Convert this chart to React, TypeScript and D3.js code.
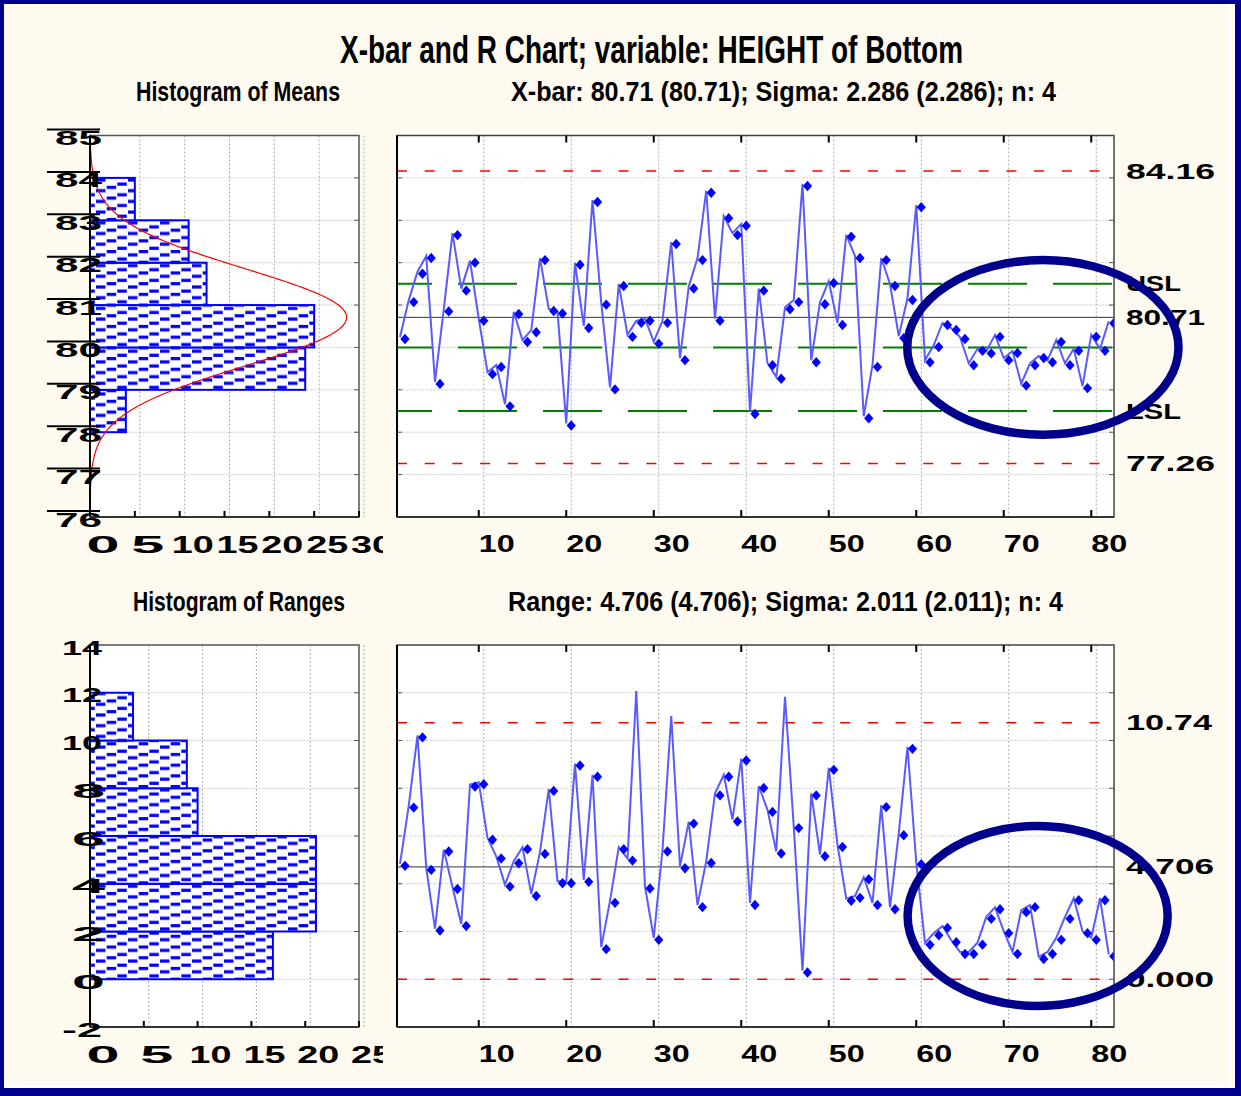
import React from "react";
import * as d3 from "d3";

const W = 1241;
const H = 1096;

// sample means (n = 4)
const sampleMeans = [
  80.2, 81.07, 81.74, 82.11, 79.14, 80.85, 82.65, 81.34, 82.0, 80.63,
  79.37, 79.54, 78.61, 80.79, 80.13, 80.36, 82.06, 80.86, 80.8, 78.16,
  81.95, 80.46, 83.43, 81.01, 79.01, 81.45, 80.25, 80.58, 80.63, 80.09,
  80.58, 82.44, 79.7, 81.39, 82.06, 83.65, 80.63, 83.05, 82.65, 82.87,
  78.43, 81.34, 79.58, 79.26, 80.9, 81.07, 83.81, 79.65, 81.02, 81.52,
  80.53, 82.61, 82.11, 78.33, 79.54, 82.06, 81.45, 80.22, 81.12, 83.31,
  79.65, 80.01, 80.53, 80.41, 80.2, 79.58, 79.92, 79.86, 80.25, 79.7,
  79.87, 79.1, 79.58, 79.75, 79.65, 80.13, 79.58, 79.92, 79.04, 80.25,
  79.92, 80.57,
];

// sample ranges
const sampleRanges = [
  4.75, 7.19, 10.13, 4.58, 2.04, 5.35, 3.78, 2.23, 8.07, 8.17,
  5.84, 5.06, 3.88, 4.86, 5.45, 3.49, 5.25, 7.89, 4.02, 4.02,
  8.95, 4.08, 8.48, 1.26, 3.2, 5.45, 4.97, 11.99, 3.8, 1.65,
  5.35, 10.94, 4.65, 6.52, 3.02, 4.87, 7.7, 8.48, 6.61, 9.16,
  3.11, 8.01, 7.01, 5.27, 11.75, 6.33, 0.28, 7.7, 5.15, 8.77,
  5.54, 3.29, 3.41, 4.19, 3.11, 7.21, 2.93, 6.03, 9.65, 4.82,
  1.44, 1.84, 2.15, 1.55, 1.06, 1.06, 1.45, 2.53, 2.93, 1.93,
  1.06, 2.81, 3.02, 0.85, 1.06, 1.65, 2.53, 3.31, 1.93, 1.65,
  3.31, 0.96,
];
// samples whose marker is not drawn on the R chart
const rangeHiddenMarkers = [28, 32, 45];

const meanBinStarts = [78, 79, 80, 81, 82, 83];
const meanBinCounts = [4, 24, 25, 13, 11, 5];
const rangeBinStarts = [0, 2, 4, 6, 8, 10];
const rangeBinCounts = [17, 21, 21, 10, 9, 4];

const meanTicks = [76, 77, 78, 79, 80, 81, 82, 83, 84, 85];
const rangeTicks = [-2, 0, 2, 4, 6, 8, 10, 12, 14];
const sampleTicks = [10, 20, 30, 40, 50, 60, 70, 80];
const meanCountTicks = [0, 5, 10, 15, 20, 25, 30];
const rangeCountTicks = [0, 5, 10, 15, 20, 25];

const xbarCenter = 80.71;
const xbarUcl = 84.16;
const xbarLcl = 77.26;
const xbarSigma = 2.286;
const sampleSize = 4;
const specValues = [78.5, 80, 81.5];
const specLabels = ["LSL", "", "USL"];

const rCenter = 4.706;
const rUcl = 10.74;
const rLcl = 0;
const rSigma = 2.011;

const titleText = "X-bar and R Chart; variable: HEIGHT of Bottom";

// ellipse annotations in data units [centre sample, centre value, half-width samples, half-height value]
const meanEllipse = [73.9, 80.0, 15.5, 2.06];
const rangeEllipse = [73.3, 2.65, 14.86, 3.77];

const FONT = "'Liberation Sans', Arial, sans-serif";
const CREAM = "#fffaef";
const NAVY = "#00008c";

const histL = 90;
const histR = 359;
const chartL = 397;
const chartR = 1114;
const topT = 135.5;
const topB = 517;
const botT = 645;
const botB = 1027;

const xS = d3.scaleLinear().domain([0, 82]).range([396.25, 1113.75]);
const yMean = d3.scaleLinear().domain([76, 85]).range([topB, topT]);
const yRange = d3.scaleLinear().domain([-2, 14]).range([botB, botT]);
const cMean = d3.scaleLinear().domain([0, 30]).range([histL, histR]);
const cRange = d3.scaleLinear().domain([0, 25]).range([histL, histR]);

function Txt({ x, y, w, size, weight = 700, children }: any) {
  return (
    <text
      x={x}
      y={y}
      textLength={w}
      lengthAdjust="spacingAndGlyphs"
      fontSize={size}
      fontWeight={weight}
      fontFamily={FONT}
      dominantBaseline="central"
      fill="#000"
    >
      {children}
    </text>
  );
}

function Histogram({ y, c, starts, width, counts, yTicks, cTicks, top, bottom, curve, overline, clipId }: any) {
  return (
    <g>
      <rect x={histL} y={top} width={histR - histL} height={bottom - top} fill="#fff" />
      {yTicks.slice(1, -1).map((v) => (
        <line key={"hg" + v} x1={histL} x2={histR} y1={y(v)} y2={y(v)} stroke="#d6d6d6" strokeDasharray="3 1" />
      ))}
      {cTicks.slice(1).map((t) => (
        <line key={"vg" + t} x1={c(t) + 5} x2={c(t) + 5} y1={top} y2={bottom} stroke="#aaa" strokeDasharray="2 2" />
      ))}
      {counts.map((n, i) => (
        <rect
          key={"b" + i}
          x={histL}
          y={y(starts[i] + width)}
          width={c(n) - histL}
          height={y(starts[i]) - y(starts[i] + width)}
          fill="url(#hatch)"
          stroke="#0000ff"
          strokeWidth={2}
        />
      ))}
      {curve && <path d={curve} fill="none" stroke="#ff0000" strokeWidth={1.2} clipPath={`url(#${clipId})`} />}
      <rect x={histL} y={top} width={histR - histL} height={bottom - top} fill="none" stroke="#555" strokeWidth={1.5} />
      <line x1={histL} x2={histL} y1={top} y2={bottom} stroke="#000" strokeWidth={2} />
      <line x1={histL} x2={histR} y1={bottom} y2={bottom} stroke="#333" strokeWidth={2} />
      {cTicks.slice(1).map((t) => (
        <line key={"t" + t} x1={c(t)} x2={c(t)} y1={bottom - 6} y2={bottom} stroke="#000" strokeWidth={2} />
      ))}
      {yTicks.slice(1, -1).map((v) => (
        <line key={"rt" + v} x1={histR - 5} x2={histR} y1={y(v)} y2={y(v)} stroke="#555" />
      ))}
      {overline &&
        yTicks.map((v) => (
          <line key={"ol" + v} x1={47} x2={100} y1={y(v) - 6} y2={y(v) - 6} stroke="#000" strokeWidth={2} />
        ))}
      {yTicks.map((v) => {
        const s = String(v);
        const w = s.length === 1 ? 33 : s.length === 2 ? (overline ? 47 : 40) : 45;
        return (
          <Txt key={"yl" + v} x={(s.length === 1 ? 105 : 102) - w} y={y(v) + 2} w={w} size={21}>
            {s}
          </Txt>
        );
      })}
      <g clipPath="url(#histLabelClip)">
        {cTicks.map((t) => {
          const s = String(t);
          const w = s.length === 1 ? 33 : 42;
          return (
            <Txt key={"xl" + t} x={c(t) + 13 - w / 2} y={bottom + 28} w={w} size={23}>
              {s}
            </Txt>
          );
        })}
      </g>
    </g>
  );
}

function ControlChart({ y, values, hidden, center, ucl, lcl, specs, gridVals, top, bottom, clipId, ellipse, rightLabels }: any) {
  const line = d3
    .line<number>()
    .x((_, i) => xS(i + 1))
    .y((v) => y(v));
  const [ex, ey, erx, ery] = ellipse;
  return (
    <g>
      <rect x={chartL} y={top} width={chartR - chartL} height={bottom - top} fill="#fff" />
      {gridVals.map((v) => (
        <line key={"hg" + v} x1={chartL} x2={chartR} y1={y(v)} y2={y(v)} stroke="#d6d6d6" strokeDasharray="3 1" />
      ))}
      {sampleTicks.map((t) => (
        <line key={"vg" + t} x1={xS(t)} x2={xS(t)} y1={top} y2={bottom} stroke="#aaa" strokeDasharray="2 2" />
      ))}
      <g clipPath={`url(#${clipId})`}>
        {specs &&
          specs.map((v) => (
            <line
              key={"sp" + v}
              x1={chartL}
              x2={chartR}
              y1={y(v)}
              y2={y(v)}
              stroke="#008000"
              strokeWidth={2}
              strokeDasharray="59 26"
              strokeDashoffset={24}
            />
          ))}
        {[ucl, lcl].map((v, i) => (
          <line
            key={"cl" + i}
            x1={chartL}
            x2={chartR}
            y1={y(v)}
            y2={y(v)}
            stroke="#ff0000"
            strokeWidth={1.5}
            strokeDasharray="10 17.7"
          />
        ))}
        <line x1={chartL} x2={chartR} y1={y(center)} y2={y(center)} stroke="#333" strokeWidth={1} />
        <path d={line(values) || ""} transform="translate(-5,-2)" fill="none" stroke="#5a5aff" strokeWidth={2} />
        {values.map((v, i) =>
          hidden.includes(i + 1) ? null : (
            <path
              key={"m" + i}
              transform={`translate(${xS(i + 1)},${y(v)})`}
              d="M0,-5.2L4.6,0L0,5.2L-4.6,0Z"
              fill="#0000ff"
            />
          )
        )}
      </g>
      <rect x={chartL} y={top} width={chartR - chartL} height={bottom - top} fill="none" stroke="#444" strokeWidth={1.5} />
      <line x1={chartL} x2={chartL} y1={top} y2={bottom} stroke="#000" strokeWidth={2} />
      <line x1={chartL} x2={chartR} y1={bottom} y2={bottom} stroke="#333" strokeWidth={2} />
      {sampleTicks.map((t) => (
        <g key={"tk" + t}>
          <line x1={xS(t) - 5} x2={xS(t) - 5} y1={top} y2={top + 7} stroke="#000" strokeWidth={2} />
          <line x1={xS(t) - 5} x2={xS(t) - 5} y1={bottom - 7} y2={bottom} stroke="#000" strokeWidth={2} />
        </g>
      ))}
      {gridVals.map((v) => (
        <g key={"yt" + v}>
          <line x1={chartL} x2={chartL + 5} y1={y(v)} y2={y(v)} stroke="#555" />
          <line x1={chartR - 5} x2={chartR} y1={y(v)} y2={y(v)} stroke="#555" />
        </g>
      ))}
      {sampleTicks.map((t) => (
        <Txt key={"xl" + t} x={xS(t) + 13 - 18} y={bottom + 27} w={36} size={23}>
          {String(t)}
        </Txt>
      ))}
      {rightLabels.map((d) => (
        <Txt key={"rl" + d.text} x={1126} y={y(d.v)} w={d.w} size={22}>
          {d.text}
        </Txt>
      ))}
      <ellipse
        cx={xS(ex)}
        cy={y(ey)}
        rx={xS(ex + erx) - xS(ex)}
        ry={y(ey - ery) - y(ey)}
        fill="none"
        stroke={NAVY}
        strokeWidth={8.5}
      />
    </g>
  );
}

export default function App() {
  const sd = xbarSigma / Math.sqrt(sampleSize);
  const nTotal = d3.sum(meanBinCounts);
  const pdf = (v: number) => Math.exp(-0.5 * ((v - xbarCenter) / sd) ** 2) / (sd * Math.sqrt(2 * Math.PI));
  const curve =
    d3
      .line<number>()
      .x((v) => cMean(nTotal * pdf(v)))
      .y((v) => yMean(v))(d3.range(76, 85.001, 0.05)) || "";

  const fmt3 = d3.format(".3f");
  const fmt2 = d3.format(".2f");

  return (
    <svg
      width={W}
      height={H}
      viewBox={`0 0 ${W} ${H}`}
      style={{ position: "absolute", left: 0, top: 0, display: "block" }}
    >
      <defs>
        <pattern id="hatch" patternUnits="userSpaceOnUse" width={32} height={10.7}>
          <rect width={32} height={10.7} fill="#fff" />
          <rect x={0} y={7.2} width={9.5} height={3.2} fill="#0000ff" />
          <rect x={10.7} y={3.9} width={9.5} height={3.2} fill="#0000ff" />
          <rect x={21.3} y={0.6} width={9.5} height={3.2} fill="#0000ff" />
        </pattern>
        <clipPath id="histTopClip">
          <rect x={histL} y={topT} width={histR - histL} height={topB - topT} />
        </clipPath>
        <clipPath id="chartTopClip">
          <rect x={chartL} y={topT} width={chartR - chartL} height={topB - topT} />
        </clipPath>
        <clipPath id="chartBotClip">
          <rect x={chartL} y={botT} width={chartR - chartL} height={botB - botT} />
        </clipPath>
        <clipPath id="histLabelClip">
          <rect x={0} y={0} width={383} height={H} />
        </clipPath>
      </defs>

      <rect width={W} height={H} fill="#fff" />
      <rect x={3} y={4} width={1226} height={1081} fill={CREAM} />
      <rect x={2} y={2} width={W - 4} height={H - 4} fill="none" stroke={NAVY} strokeWidth={4} />
      <line x1={W - 4} x2={W - 4} y1={0} y2={H} stroke={NAVY} strokeWidth={4} />
      <line x1={0} x2={W} y1={H - 5} y2={H - 5} stroke={NAVY} strokeWidth={6} />

      <Txt x={340} y={50} w={623} size={38} weight={700}>
        {titleText}
      </Txt>

      <Txt x={136} y={92} w={204} size={27}>
        Histogram of Means
      </Txt>
      <Txt x={511} y={92} w={545} size={27}>
        {`X-bar: ${fmt2(xbarCenter)} (${fmt2(xbarCenter)}); Sigma: ${fmt3(xbarSigma)} (${fmt3(xbarSigma)}); n: ${sampleSize}`}
      </Txt>
      <Txt x={133} y={602} w={212} size={27}>
        Histogram of Ranges
      </Txt>
      <Txt x={508} y={602} w={555} size={27}>
        {`Range: ${fmt3(rCenter)} (${fmt3(rCenter)}); Sigma: ${fmt3(rSigma)} (${fmt3(rSigma)}); n: ${sampleSize}`}
      </Txt>

      <Histogram
        y={yMean}
        c={cMean}
        starts={meanBinStarts}
        width={1}
        counts={meanBinCounts}
        yTicks={meanTicks}
        cTicks={meanCountTicks}
        top={topT}
        bottom={topB}
        curve={curve}
        overline
        clipId="histTopClip"
      />
      <Histogram
        y={yRange}
        c={cRange}
        starts={rangeBinStarts}
        width={2}
        counts={rangeBinCounts}
        yTicks={rangeTicks}
        cTicks={rangeCountTicks}
        top={botT}
        bottom={botB}
      />

      <ControlChart
        y={yMean}
        values={sampleMeans}
        hidden={[]}
        center={xbarCenter}
        ucl={xbarUcl}
        lcl={xbarLcl}
        specs={specValues}
        gridVals={meanTicks.slice(1, -1)}
        top={topT}
        bottom={topB}
        clipId="chartTopClip"
        ellipse={meanEllipse}
        rightLabels={[
          { v: xbarUcl, text: fmt2(xbarUcl), w: 89 },
          { v: specValues[2], text: specLabels[2], w: 55 },
          { v: xbarCenter, text: fmt2(xbarCenter), w: 79 },
          { v: specValues[0], text: specLabels[0], w: 55 },
          { v: xbarLcl, text: fmt2(xbarLcl), w: 89 },
        ]}
      />
      <ControlChart
        y={yRange}
        values={sampleRanges}
        hidden={rangeHiddenMarkers}
        center={rCenter}
        ucl={rUcl}
        lcl={rLcl}
        specs={null}
        gridVals={[0, 2, 4, 6, 8, 10, 12]}
        top={botT}
        bottom={botB}
        clipId="chartBotClip"
        ellipse={rangeEllipse}
        rightLabels={[
          { v: rUcl, text: fmt2(rUcl), w: 86 },
          { v: rCenter, text: fmt3(rCenter), w: 88 },
          { v: rLcl, text: fmt3(rLcl), w: 88 },
        ]}
      />
    </svg>
  );
}
